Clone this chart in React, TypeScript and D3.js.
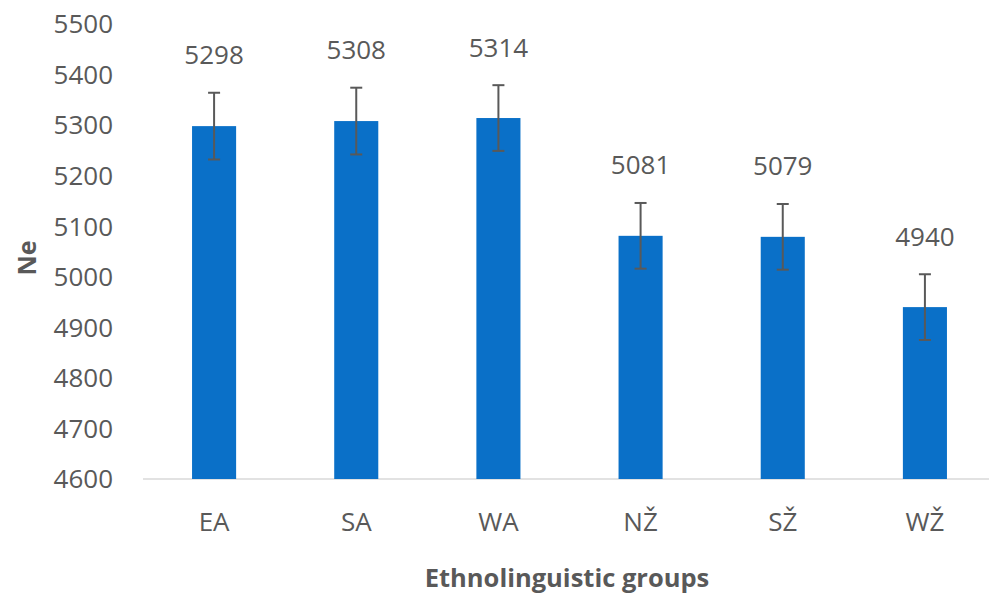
import { useEffect, useRef } from 'react'
import * as d3 from 'd3'

const W = 989
const H = 597
const FONT = '"Open Sans", "DejaVu Sans", sans-serif'
const BAR = '#0A70C8'
const TEXT = '#595959'

const groups = ['EA', 'SA', 'WA', 'NŽ', 'SŽ', 'WŽ']
const neValues = [5298, 5308, 5314, 5081, 5079, 4940]
const neErrors = [66, 66, 65, 65, 65, 65]
const yTicks = [4600, 4700, 4800, 4900, 5000, 5100, 5200, 5300, 5400, 5500]

export default function App() {
  const svgRef = useRef<SVGSVGElement>(null)

  useEffect(() => {
    const svg = d3.select(svgRef.current)
    svg.selectAll('*').remove()

    const x = d3.scaleBand<string>().domain(groups).range([143, 996]).paddingInner(0.69).paddingOuter(0.345)
    const y = d3.scaleLinear([4600, 5500], [479, 24])

    const data = groups.map((g, i) => ({ g, v: neValues[i], e: neErrors[i] }))

    // baseline
    svg.append('line')
      .attr('x1', 143).attr('x2', W)
      .attr('y1', y(4600)).attr('y2', y(4600))
      .attr('stroke', '#D9D9D9').attr('stroke-width', 1.5)

    // y tick labels
    svg.append('g').selectAll('text').data(yTicks).join('text')
      .attr('x', 113).attr('y', d => y(d))
      .attr('dy', '0.36em')
      .attr('text-anchor', 'end')
      .attr('font-family', FONT).attr('font-size', 26).attr('fill', TEXT)
      .text(d => d)

    // bars
    svg.append('g').selectAll('rect').data(data).join('rect')
      .attr('x', d => x(d.g)!)
      .attr('width', x.bandwidth())
      .attr('y', d => y(d.v))
      .attr('height', d => y(4600) - y(d.v))
      .attr('fill', BAR)

    // error bars
    const eg = svg.append('g').attr('stroke', TEXT).attr('stroke-width', 2)
    data.forEach(d => {
      const cx = x(d.g)! + x.bandwidth() / 2
      eg.append('line').attr('x1', cx).attr('x2', cx).attr('y1', y(d.v + d.e)).attr('y2', y(d.v - d.e))
      eg.append('line').attr('x1', cx - 6).attr('x2', cx + 6).attr('y1', y(d.v + d.e)).attr('y2', y(d.v + d.e))
      eg.append('line').attr('x1', cx - 6).attr('x2', cx + 6).attr('y1', y(d.v - d.e)).attr('y2', y(d.v - d.e))
    })

    // value labels
    svg.append('g').selectAll('text').data(data).join('text')
      .attr('x', d => x(d.g)! + x.bandwidth() / 2)
      .attr('y', d => y(d.v + d.e) - 38)
      .attr('dy', '0.36em')
      .attr('text-anchor', 'middle')
      .attr('font-family', FONT).attr('font-size', 26).attr('fill', TEXT)
      .text(d => d.v)

    // category labels
    svg.append('g').selectAll('text').data(groups).join('text')
      .attr('x', d => x(d)! + x.bandwidth() / 2)
      .attr('y', 522)
      .attr('dy', '0.36em')
      .attr('text-anchor', 'middle')
      .attr('font-family', FONT).attr('font-size', 26).attr('fill', TEXT)
      .text(d => d)

    // axis titles
    svg.append('text')
      .attr('x', 567).attr('y', 578).attr('dy', '0.36em')
      .attr('text-anchor', 'middle')
      .attr('font-family', FONT).attr('font-size', 25.5).attr('font-weight', 'bold').attr('fill', TEXT)
      .text('Ethnolinguistic groups')

    svg.append('text')
      .attr('transform', `translate(27,258) rotate(-90)`)
      .attr('dy', '0.36em')
      .attr('text-anchor', 'middle')
      .attr('font-family', FONT).attr('font-size', 25).attr('font-weight', 'bold').attr('fill', TEXT)
      .text('Ne')
  }, [])

  return (
    <svg ref={svgRef} width={W} height={H}
      style={{ position: 'absolute', left: 0, top: 0, background: '#fff' }} />
  )
}
